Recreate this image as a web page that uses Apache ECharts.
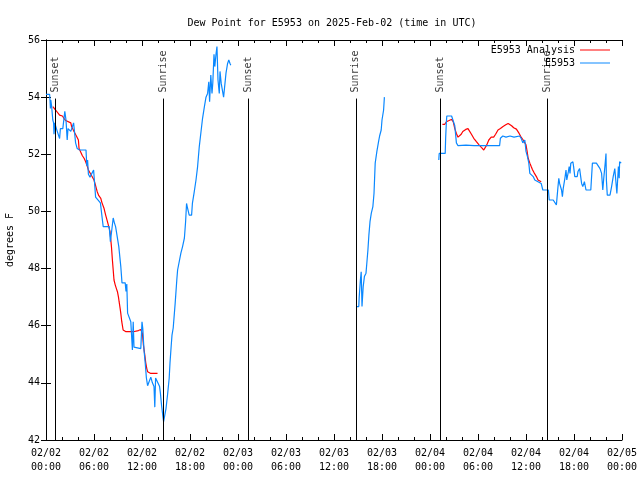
<!DOCTYPE html>
<html>
<head>
<meta charset="utf-8">
<script src="https://cdn.jsdelivr.net/npm/echarts@6/dist/echarts.min.js"></script>
<style>html,body{margin:0;padding:0;background:#fff}#c{width:640px;height:480px}</style>
</head>
<body>
<div id="c"></div>
<script>
// Time in hours since 2025-02-02 00:00 UTC
const xTickLabels = ['02/02\n00:00','02/02\n06:00','02/02\n12:00','02/02\n18:00','02/03\n00:00','02/03\n06:00','02/03\n12:00','02/03\n18:00','02/04\n00:00','02/04\n06:00','02/04\n12:00','02/04\n18:00','02/05\n00:00'];
const eventHours = [1.13, 14.69, 25.3, 38.73, 49.3, 62.65];
const eventLabels = ['Sunset','Sunrise','Sunset','Sunrise','Sunset','Sunrise'];

const obsSeg1 = [[0.0,54.1],[0.45,54.1],[0.5,53.9],[0.55,53.6],[0.6,53.9],[0.7,53.7],[0.85,53.2],[0.95,53.1],[1.0,52.7],[1.1,53.1],[1.3,52.9],[1.5,52.9],[1.7,52.55],[1.8,52.9],[2.1,52.9],[2.35,53.5],[2.5,53.2],[2.65,52.5],[2.75,52.9],[3.1,52.8],[3.45,53.1],[3.7,52.4],[3.9,52.2],[4.2,52.15],[5.0,52.15],[5.1,51.6],[5.2,51.8],[5.3,51.3],[5.5,51.2],[5.95,51.45],[6.2,50.5],[6.4,50.45],[6.8,50.3],[7.05,49.7],[7.15,49.47],[7.9,49.47],[8.05,48.94],[8.25,48.94],[8.4,49.77],[8.55,49.6],[8.7,49.47],[8.95,49.4],[9.1,48.77],[9.35,48.07],[9.5,47.5],[9.9,47.5],[10.0,47.2],[10.1,47.46],[10.2,46.44],[10.4,46.44],[10.6,46.14],[10.8,45.15],[10.9,46.14],[11.0,45.25],[11.2,45.2],[11.85,45.2],[12.0,46.14],[12.1,45.9],[12.25,45.15],[12.4,44.7],[12.55,44.17],[12.7,43.9],[12.9,43.9],[13.1,44.2],[13.3,44.0],[13.5,43.87],[13.6,43.15],[13.7,44.17],[13.95,44.1],[14.2,43.87],[14.3,43.64],[14.45,43.2],[14.56,42.95],[14.7,42.64],[14.85,42.87],[15.0,43.1],[15.2,43.6],[15.4,44.17],[15.5,44.7],[15.65,45.3],[15.75,45.67],[15.9,45.92],[16.15,46.8],[16.35,47.6],[16.45,47.95],[16.7,47.95],[16.86,48.54],[17.07,48.77],[17.3,49.07],[17.45,49.64],[17.57,50.28],[17.65,50.17],[17.9,49.87],[18.2,49.87],[18.3,50.28],[18.5,50.63],[18.75,51.1],[18.95,51.57],[19.16,52.27],[19.4,52.85],[19.57,53.26],[19.8,53.67],[20.0,54.0],[20.2,54.13],[20.35,54.54],[20.45,53.84],[20.6,54.77],[20.75,54.13],[20.85,54.5],[21.0,55.5],[21.1,55.07],[21.25,55.5],[21.37,55.77],[21.5,54.6],[21.66,54.13],[21.75,54.9],[21.9,54.48],[22.2,54.0],[22.4,54.0],[22.5,54.84],[22.7,55.18],[22.85,55.3],[23.0,55.18],[23.1,55.12]];
const obsSeg2 = [[38.78,46.67],[39.1,46.67],[39.15,47.0],[39.3,47.6],[39.4,47.89],[39.5,46.67],[39.65,47.37],[39.8,47.72],[40.0,47.84],[40.1,48.18],[40.24,48.65],[40.36,49.17],[40.5,49.64],[40.66,49.93],[40.86,50.17],[41.0,50.63],[41.15,51.69],[41.36,52.1],[41.57,52.44],[41.7,52.64],[41.9,52.85],[42.0,53.2],[42.2,53.55],[42.3,54.0]];
const obsSeg3 = [[49.1,51.8],[49.15,52.03],[49.9,52.03],[49.96,52.6],[50.05,53.14],[50.1,53.34],[50.7,53.34],[51.1,53.0],[51.3,52.4],[51.5,52.3],[52.5,52.32],[53.5,52.3],[54.5,52.3],[55.5,52.3],[56.7,52.3],[56.8,52.56],[57.1,52.64],[57.5,52.6],[58.0,52.64],[58.5,52.6],[59.2,52.64],[59.4,52.56],[59.6,52.4],[59.85,52.5],[60.0,52.1],[60.2,51.9],[60.35,51.69],[60.48,51.33],[60.7,51.33],[60.9,51.22],[61.1,51.1],[61.5,51.04],[61.9,50.98],[62.1,50.75],[62.8,50.75],[62.9,50.4],[63.4,50.4],[63.6,50.34],[63.8,50.23],[63.85,50.17],[64.0,50.87],[64.1,51.16],[64.2,50.98],[64.44,50.75],[64.55,50.52],[64.65,50.8],[64.86,51.16],[65.0,51.45],[65.1,51.1],[65.3,51.4],[65.4,51.57],[65.5,51.33],[65.6,51.69],[65.86,51.74],[65.95,51.57],[66.1,51.22],[66.4,51.22],[66.5,51.4],[66.7,51.5],[66.95,50.98],[67.1,50.87],[67.3,51.04],[67.5,50.75],[68.1,50.75],[68.3,51.69],[68.8,51.69],[69.0,51.62],[69.25,51.5],[69.45,51.33],[69.6,50.75],[69.7,51.1],[69.9,51.69],[70.0,52.03],[70.05,51.1],[70.16,50.57],[70.5,50.57],[70.7,50.87],[70.9,51.22],[71.1,51.5],[71.36,50.63],[71.55,51.57],[71.65,51.16],[71.7,51.74],[71.9,51.69]];

const anaSeg1 = [[0.85,53.67],[1.2,53.55],[1.45,53.5],[1.7,53.37],[2.05,53.34],[2.25,53.26],[2.46,53.18],[2.65,53.14],[3.1,53.1],[3.2,52.97],[3.5,52.8],[3.8,52.64],[4.05,52.5],[4.13,52.2],[4.34,52.13],[4.55,51.95],[4.76,51.86],[4.96,51.74],[5.17,51.57],[5.3,51.45],[5.6,51.3],[6.0,51.1],[6.2,50.9],[6.4,50.69],[6.6,50.55],[6.85,50.46],[7.0,50.3],[7.26,50.1],[7.45,49.88],[7.68,49.64],[7.85,49.58],[8.0,49.3],[8.18,48.77],[8.3,48.3],[8.4,47.95],[8.5,47.6],[8.65,47.43],[8.8,47.3],[8.93,47.19],[9.06,47.0],[9.14,46.84],[9.27,46.6],[9.35,46.43],[9.47,46.14],[9.64,45.85],[10.0,45.79],[10.4,45.79],[10.9,45.79],[11.56,45.83],[11.85,45.87],[12.05,45.73],[12.18,45.32],[12.35,44.97],[12.47,44.7],[12.6,44.5],[12.7,44.39],[13.1,44.33],[13.94,44.33]];
const anaSeg2 = [[49.55,53.05],[49.85,53.05],[50.05,53.14],[50.38,53.18],[50.68,53.22],[50.9,53.14],[51.1,52.9],[51.3,52.73],[51.5,52.6],[51.7,52.6],[51.9,52.7],[52.1,52.8],[52.47,52.87],[52.75,52.9],[52.95,52.85],[53.18,52.7],[53.47,52.56],[53.8,52.44],[54.13,52.33],[54.42,52.24],[54.72,52.15],[54.95,52.2],[55.1,52.33],[55.35,52.5],[55.65,52.6],[55.96,52.6],[56.2,52.7],[56.5,52.85],[56.8,52.9],[57.13,52.97],[57.47,53.03],[57.77,53.08],[58.0,53.05],[58.2,53.0],[58.46,52.93],[58.8,52.88],[59.14,52.73],[59.35,52.62],[59.65,52.5],[60.0,52.33],[60.14,52.1],[60.27,51.86],[60.48,51.69],[60.65,51.57],[60.8,51.47],[61.0,51.36],[61.3,51.22],[61.5,51.1],[61.7,51.04],[61.9,51.04]];

const eventTop = 53.95;
const FONT = 'DejaVu Sans Mono';
const RED = '#ff0000';
const BLUE = '#0a88ff';

const chart = echarts.init(document.getElementById('c'), null, {renderer: 'canvas'});

function lineSeries(name, data, color) {
  return {
    type: 'line', name: name, data: data, xAxisIndex: 0, yAxisIndex: 0,
    showSymbol: false, symbol: 'none', animation: false, silent: true,
    lineStyle: {color: color, width: 1.2}, itemStyle: {color: color}, z: 3
  };
}

const eventData = eventHours.map((h, i) => ({value: [h, eventTop], name: eventLabels[i]}));
const eventLines = eventHours.map(h => [{coord: [h, 42]}, {coord: [h, eventTop]}]);

const axisCommon = {
  type: 'value', min: 0, max: 72, interval: 6,
  axisLine: {show: true, lineStyle: {color: '#000', width: 1}},
  axisTick: {show: true, inside: true, length: 6, lineStyle: {color: '#000'}},
  minorTick: {show: true, splitNumber: 3, length: 3, lineStyle: {color: '#000'}},
  splitLine: {show: false}
};
const yCommon = {
  type: 'value', min: 42, max: 56, interval: 2,
  axisLine: {show: true, lineStyle: {color: '#000', width: 1}},
  axisTick: {show: true, inside: true, length: 5, lineStyle: {color: '#000'}},
  splitLine: {show: false}
};

chart.setOption({
  animation: false,
  backgroundColor: '#fff',
  title: {
    text: 'Dew Point for E5953 on 2025-Feb-02 (time in UTC)',
    left: 327, top: 13, textAlign: 'center',
    textStyle: {fontFamily: FONT, fontSize: 10, fontWeight: 'normal', color: '#000'}
  },
  legend: {
    data: [{name: 'E5953 Analysis', icon: 'rect'}, {name: 'E5953', icon: 'rect'}],
    orient: 'vertical', right: 25, top: 40, align: 'right',
    itemWidth: 30, itemHeight: 1, itemGap: 3,
    textStyle: {fontFamily: FONT, fontSize: 10, color: '#000'},
    selectedMode: false
  },
  grid: {left: 46, right: 18, top: 40, bottom: 40, containLabel: false, outerBoundsMode: 'none'},
  xAxis: [
    Object.assign({}, axisCommon, {
      position: 'bottom',
      axisLabel: {
        fontFamily: FONT, fontSize: 10, color: '#000', margin: 6, lineHeight: 14,
        formatter: v => xTickLabels[Math.round(v / 6)]
      }
    }),
    Object.assign({}, axisCommon, {position: 'top', axisLabel: {show: false}})
  ],
  yAxis: [
    Object.assign({}, yCommon, {
      position: 'left',
      name: 'degrees F', nameLocation: 'middle', nameRotate: 90, nameGap: 31,
      nameTextStyle: {fontFamily: FONT, fontSize: 10, color: '#000'},
      axisLabel: {fontFamily: FONT, fontSize: 10, color: '#000', margin: 6}
    }),
    Object.assign({}, yCommon, {position: 'right', axisLabel: {show: false}})
  ],
  series: [
    {
      type: 'scatter', name: 'events', data: eventData, symbolSize: 0,
      xAxisIndex: 0, yAxisIndex: 0, silent: true, z: 2,
      label: {
        show: true, formatter: '{b}', position: 'top', distance: 6,
        rotate: 90, align: 'left', verticalAlign: 'middle',
        fontFamily: FONT, fontSize: 10, color: '#000'
      },
      markLine: {
        silent: true, symbol: ['none', 'none'], animation: false,
        label: {show: false},
        lineStyle: {color: '#000', width: 1, type: 'solid'},
        data: eventLines
      }
    },
    lineSeries('E5953 Analysis', anaSeg1, RED),
    lineSeries('E5953 Analysis', anaSeg2, RED),
    lineSeries('E5953', obsSeg1, BLUE),
    lineSeries('E5953', obsSeg2, BLUE),
    lineSeries('E5953', obsSeg3, BLUE)
  ]
});
</script>
</body>
</html>
